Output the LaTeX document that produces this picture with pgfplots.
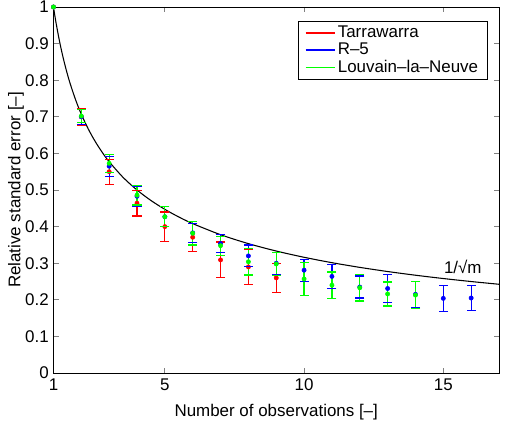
\documentclass[border=0pt]{standalone}
\usepackage{fontspec}
\setmainfont{Liberation Sans}
\usepackage{pgfplots}
\usepackage{pgfplotstable}
\pgfplotsset{compat=1.18}

\pgfplotstableread{
m y
1 1.000
2 0.700
3 0.550
4 0.464
5 0.400
6 0.371
7 0.309
8 0.290
9 0.260
}\tarra
\pgfplotstableread{
m y
1 1.000
2 0.700
3 0.565
4 0.483
5 0.427
6 0.383
7 0.354
8 0.320
9 0.300
10 0.281
11 0.264
12 0.235
13 0.231
14 0.215
15 0.204
16 0.205
}\rfive
\pgfplotstableread{
m y
1 1.000
2 0.702
3 0.573
4 0.486
5 0.427
6 0.382
7 0.348
8 0.304
9 0.298
10 0.257
11 0.240
12 0.233
13 0.216
14 0.213
}\louvain

\definecolor{cR}{rgb}{1,0,0}
\definecolor{cB}{rgb}{0,0,1}
\definecolor{cG}{rgb}{0,1,0}

\pgfplotsset{
  ebar/.style={color=#1, line width=0.9pt, mark=-, mark size=3.4pt,
    mark options={color=#1, line width=0.9pt}, unbounded coords=jump, forget plot},
  edot/.style={color=#1, fill=#1, only marks, mark=*, mark size=1.6pt, forget plot},
}

\begin{document}
\begin{tikzpicture}[font=\fontsize{12.7}{15}\selectfont]
\begin{axis}[
  scale only axis, width=334.1pt, height=274.5pt,
  xmin=1, xmax=17, ymin=0, ymax=1,
  xtick={1,5,10,15},
  ytick={0,0.1,0.2,0.3,0.4,0.5,0.6,0.7,0.8,0.9,1},
  /pgf/number format/.cd, fixed, precision=1, assume math mode=true,
  /pgfplots/.cd,
  tick align=inside,
  major tick length=3.8pt,
  axis line style={line width=0.7pt},
  tick style={line width=0.6pt},
  xticklabel style={yshift=-1pt},
  xlabel={Number of observations [–]},
  ylabel={Relative standard error [–]},
  xlabel style={at={(axis description cs:0.5,-0.085)}, anchor=north, inner sep=0pt},
  ylabel style={at={(axis description cs:-0.066,0.5)}, anchor=south, inner sep=0pt},
  legend image code/.code={\draw[#1] (0pt,0pt) -- (21.75pt,0pt);},
  legend style={at={(rel axis cs:0.975,0.963)}, anchor=north east, draw=black, line width=0.6pt,
    inner xsep=5pt, inner ysep=2pt,
    row sep=-1.5pt, cells={anchor=west}},
]
\addplot[color=black, line width=0.8pt, smooth, forget plot] coordinates {
(1,1) (1.05,0.97590) (1.1,0.95346) (1.2,0.91287) (1.3,0.87706) (1.4,0.84515)
(1.5,0.81650) (1.6,0.79057) (1.8,0.74536) (2,0.70711) (2.25,0.66667)
(2.5,0.63246) (2.75,0.60302) (3,0.57735) (3.5,0.53452) (4,0.5) (4.5,0.47140)
(5,0.44721) (5.5,0.42640) (6,0.40825) (7,0.37796) (8,0.35355) (9,0.33333)
(10,0.31623) (11,0.30151) (12,0.28868) (13,0.27735) (14,0.26726)
(15,0.25820) (16,0.25) (17,0.24254)};

% Tarrawarra error bars
\addplot[ebar=cR] coordinates {
(2,0.677) (2,0.723) (2,nan)
(3,0.516) (3,0.584) (3,nan)
(4,0.429) (4,0.499) (4,nan)
(5,0.360) (5,0.440) (5,nan)
(6,0.333) (6,0.409) (6,nan)
(7,0.260) (7,0.358) (7,nan)
(8,0.242) (8,0.338) (8,nan)
(9,0.220) (9,0.300)};
\addplot[edot=cR] table[x=m, y=y] {\tarra};

% R-5 error bars
\addplot[ebar=cB] coordinates {
(2,0.680) (2,0.720) (2,nan)
(3,0.538) (3,0.592) (3,nan)
(4,0.455) (4,0.511) (4,nan)
(5,0.400) (5,0.454) (5,nan)
(6,0.357) (6,0.409) (6,nan)
(7,0.329) (7,0.379) (7,nan)
(8,0.290) (8,0.350) (8,nan)
(9,0.270) (9,0.330) (9,nan)
(10,0.251) (10,0.311) (10,nan)
(11,0.231) (11,0.297) (11,nan)
(12,0.205) (12,0.265) (12,nan)
(13,0.193) (13,0.269) (13,nan)
(14,0.180) (14,0.250) (14,nan)
(15,0.168) (15,0.240) (15,nan)
(16,0.170) (16,0.240)};
\addplot[edot=cB] table[x=m, y=y] {\rfive};

% Louvain-la-Neuve error bars
\addplot[ebar=cG] coordinates {
(2,0.684) (2,0.720) (2,nan)
(3,0.548) (3,0.598) (3,nan)
(4,0.459) (4,0.513) (4,nan)
(5,0.400) (5,0.454) (5,nan)
(6,0.350) (6,0.414) (6,nan)
(7,0.322) (7,0.374) (7,nan)
(8,0.268) (8,0.340) (8,nan)
(9,0.267) (9,0.329) (9,nan)
(10,0.211) (10,0.303) (10,nan)
(11,0.204) (11,0.276) (11,nan)
(12,0.197) (12,0.269) (12,nan)
(13,0.183) (13,0.249) (13,nan)
(14,0.176) (14,0.250)};
\addplot[edot=cG] table[x=m, y=y] {\louvain};

\addlegendimage{color=cR, line width=0.9pt}
\addlegendentry{Tarrawarra}
\addlegendimage{color=cB, line width=0.9pt}
\addlegendentry{R–5}
\addlegendimage{color=cG, line width=0.9pt}
\addlegendentry{Louvain–la–Neuve}

\node at (axis cs:15.7,0.29) {1/√m};
\end{axis}
\pgfresetboundingbox
\path ([shift={(-40.1pt,-40.5pt)}]current axis.south west) rectangle ([shift={(5.25pt,5.25pt)}]current axis.north east);
\end{tikzpicture}
\end{document}
